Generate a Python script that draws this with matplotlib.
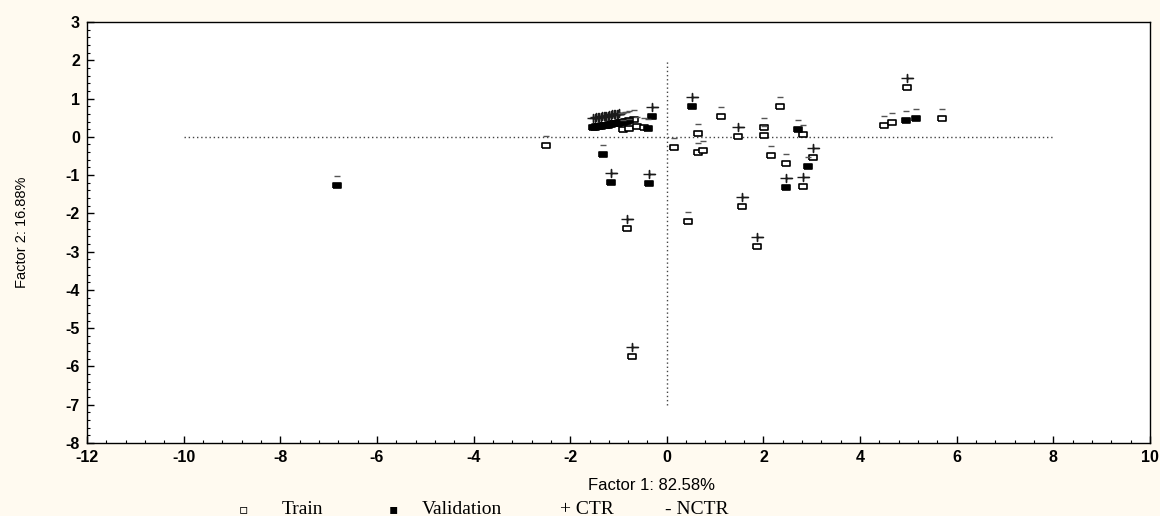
#!/usr/bin/env python3
"""
Factor plane (Factor 1 vs Factor 2) with train/validation cases,
labelled by class (+ CTR, - NCTR).
"""

import numpy as np
import matplotlib
matplotlib.use('Agg')
import matplotlib.pyplot as plt
from matplotlib.ticker import MultipleLocator, AutoMinorLocator
from matplotlib.transforms import offset_copy

plt.rcParams['axes.unicode_minus'] = False

# Training cases: factor scores and class label
train_x = [-2.51, 0.14, -0.83, -0.72, 0.43, 1.55, 1.12, 0.64, 0.64, 0.75,
           1.47, 2.01, 2.01, 2.15, 2.34, 2.82, 2.46, 3.02, 2.82, 1.86,
           4.97, 4.49, 4.66, 5.69, -0.68, -0.91, -0.79, -0.62, -0.48]
train_y = [-0.22, -0.27, -2.39, -5.73, -2.21, -1.81, 0.54, 0.09, -0.40, -0.35,
           0.01, 0.25, 0.04, -0.48, 0.80, 0.07, -0.69, -0.54, -1.29, -2.86,
           1.29, 0.30, 0.38, 0.48, 0.46, 0.20, 0.22, 0.27, 0.25]
train_cls = ['NCTR', 'NCTR', 'CTR', 'CTR', 'NCTR', 'CTR', 'NCTR', 'NCTR', 'NCTR', 'NCTR',
             'CTR', 'NCTR', 'NCTR', 'NCTR', 'NCTR', 'NCTR', 'NCTR', 'CTR', 'CTR', 'CTR',
             'CTR', 'NCTR', 'NCTR', 'NCTR', 'NCTR', 'NCTR', 'NCTR', 'NCTR', 'NCTR']

# Validation cases
val_x = [-6.83, -1.33, -1.16, -0.37, 0.52, 2.71, 2.92, 2.46, 4.95, 5.16,
         -0.31, -0.39,
         -1.52, -1.49, -1.46, -1.43, -1.40, -1.37, -1.34, -1.31, -1.28, -1.25,
         -1.22, -1.19, -1.16, -1.13, -1.10, -1.07, -1.04, -1.01, -0.98,
         -0.94, -0.90, -0.86, -0.82, -0.78]
val_y = [-1.27, -0.46, -1.19, -1.21, 0.80, 0.20, -0.77, -1.32, 0.43, 0.48,
         0.54, 0.22,
         0.25, 0.26, 0.27, 0.27, 0.28, 0.29, 0.30, 0.30, 0.31, 0.32,
         0.32, 0.33, 0.34, 0.35, 0.35, 0.36, 0.37, 0.37, 0.38,
         0.39, 0.40, 0.41, 0.42, 0.43]
val_cls = ['NCTR', 'NCTR', 'CTR', 'CTR', 'CTR', 'NCTR', 'NCTR', 'CTR', 'NCTR', 'NCTR',
           'CTR', 'NCTR',
           'CTR', 'CTR', 'CTR', 'CTR', 'CTR', 'CTR', 'CTR', 'CTR', 'CTR', 'CTR',
           'CTR', 'CTR', 'CTR', 'CTR', 'CTR', 'CTR', 'CTR', 'CTR', 'CTR',
           'NCTR', 'NCTR', 'NCTR', 'NCTR', 'NCTR']

BG = '#FFFAF0'
RECT = [(-1, -0.6), (1, -0.6), (1, 0.6), (-1, 0.6), (-1, -0.6)]
PLUS = [(-1, 0), (1, 0), (0, 0), (0, 0.65), (0, -0.65), (0, 0)]

W, H = 1160, 516
fig = plt.figure(figsize=(W / 100, H / 100), dpi=100, facecolor=BG)
ax = fig.add_axes([87 / W, 1 - 443 / H, (1150 - 87) / W, (443 - 22) / H])
ax.set_facecolor('white')

ax.set_xlim(-12, 10)
ax.set_ylim(-8, 3)

# reference lines through the origin
ax.hlines(0, -10, 8, colors='#444444', linestyles=(0, (1, 2)), linewidth=1)
ax.vlines(0, -7, 2, colors='#444444', linestyles=(0, (1, 2)), linewidth=1)

# points
ax.plot(train_x, train_y, ls='none', marker=RECT, ms=6, mfc='white',
        mec='black', mew=1.2, zorder=3)
ax.plot(val_x, val_y, ls='none', marker=RECT, ms=6, mfc='black',
        mec='black', mew=1.2, zorder=3)

# class labels drawn just above each point
lab = offset_copy(ax.transData, fig=fig, x=0, y=9, units='dots')
all_x = np.array(train_x + val_x)
all_y = np.array(train_y + val_y)
all_c = np.array(train_cls + val_cls)
ctr = all_c == 'CTR'
ax.plot(all_x[ctr], all_y[ctr], ls='none', marker=PLUS, ms=8, mew=1,
        mfc='none', color='#1a1a1a', transform=lab, zorder=4)
ax.plot(all_x[~ctr], all_y[~ctr], ls='none', marker='_', ms=5, mew=1,
        color='#555555', transform=lab, zorder=4)

# axes styling
ax.xaxis.set_major_locator(MultipleLocator(2))
ax.yaxis.set_major_locator(MultipleLocator(1))
ax.xaxis.set_minor_locator(AutoMinorLocator(5))
ax.yaxis.set_minor_locator(AutoMinorLocator(5))
ax.tick_params(which='major', direction='in', length=5, width=1,
               labelsize=11.5, pad=5)
ax.tick_params(which='minor', direction='in', length=2.5, width=0.8)
for t in ax.get_xticklabels() + ax.get_yticklabels():
    t.set_fontfamily('Liberation Sans')
    t.set_fontweight('bold')
for s in ax.spines.values():
    s.set_linewidth(1)

fig.text(22 / W, 1 - 232 / H, 'Factor 2: 16.88%', rotation=90,
         ha='center', va='center', fontsize=10.5,
         family=['Liberation Sans Narrow', 'Liberation Sans'])
fig.text(651 / W, 1 - 485 / H, 'Factor 1: 82.58%', ha='center', va='center',
         fontsize=12, family='Liberation Sans')

# legend row
leg_y = 1 - 509 / H
fig.text(243 / W, leg_y, '\u25ab', ha='center', va='center', fontsize=10,
         family='DejaVu Sans')
fig.text(282 / W, leg_y, 'Train', ha='left', va='center', fontsize=14,
         family='Liberation Serif')
fig.text(393 / W, leg_y, '\u25aa', ha='center', va='center', fontsize=10,
         family='DejaVu Sans')
fig.text(422 / W, leg_y, 'Validation', ha='left', va='center', fontsize=14,
         family='Liberation Serif')
fig.text(560 / W, leg_y, '+ CTR', ha='left', va='center', fontsize=14,
         family='Liberation Serif')
fig.text(665 / W, leg_y, '- NCTR', ha='left', va='center', fontsize=14,
         family='Liberation Serif')

fig.savefig('out.png', dpi=100, facecolor=BG)
